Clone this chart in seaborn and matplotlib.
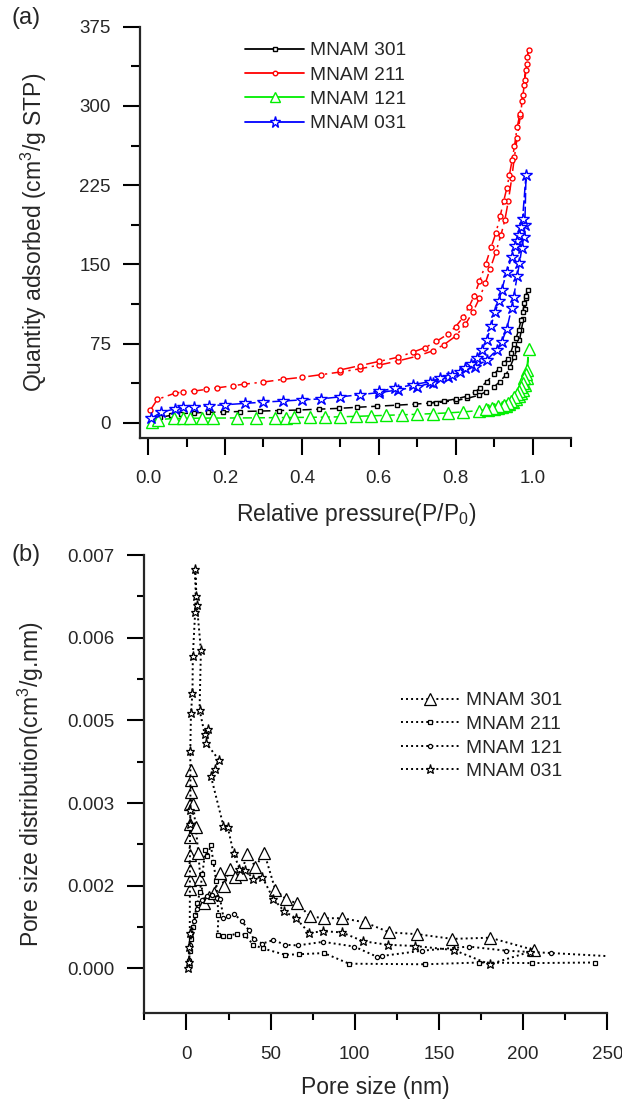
import numpy as np
import pandas as pd
import matplotlib
matplotlib.use("Agg")
import matplotlib.pyplot as plt
import seaborn as sns
from matplotlib.lines import Line2D
from matplotlib.ticker import FixedLocator, FixedFormatter

# ---------------- Panel (a): N2 isotherms ----------------
p301_ads = [0.01, 0.03, 0.06, 0.085, 0.12, 0.155, 0.195, 0.24, 0.29, 0.34, 0.39, 0.444, 0.497, 0.544,
            0.595, 0.647, 0.694, 0.75, 0.80, 0.83, 0.86, 0.88, 0.90, 0.915, 0.93, 0.942, 0.952, 0.96,
            0.966, 0.971, 0.976, 0.98, 0.984, 0.987]
q301_ads = [3, 5, 7, 8.5, 9.3, 9.8, 10.2, 10.6, 11, 11.5, 12, 12.8, 13.6, 14.6,
            15.6, 16.6, 17.6, 19, 21, 23, 26, 29.5, 34, 39, 45, 53, 62, 70,
            78, 88, 98, 108, 118, 126]
p301_des = [0.982, 0.978, 0.975, 0.97, 0.964, 0.957, 0.951, 0.943, 0.935, 0.925, 0.912, 0.90,
            0.881, 0.864, 0.85, 0.829, 0.80, 0.77, 0.73]
q301_des = [120, 113, 105, 97, 88, 80, 75, 66, 60, 57, 51, 46,
            39, 33, 29, 25, 22.5, 20.5, 19]

p211_ads = [0.006, 0.024, 0.07, 0.09, 0.12, 0.15, 0.18, 0.22, 0.25, 0.30, 0.35, 0.40, 0.45, 0.50,
            0.55, 0.60, 0.65, 0.70, 0.74, 0.77, 0.80, 0.825, 0.845, 0.862, 0.877, 0.89, 0.905,
            0.918, 0.928, 0.937, 0.946, 0.953, 0.96, 0.968, 0.975, 0.98, 0.985, 0.99]
q211_ads = [12, 22, 28, 29, 30, 31.5, 33, 35, 36.5, 38.5, 41, 43, 45.5, 48,
            51, 54.5, 58.5, 63, 68, 74, 82, 93, 105, 118, 132, 146, 162,
            178, 192, 210, 232, 252, 270, 290, 310, 325, 340, 353]
p211_des = [0.986, 0.982, 0.978, 0.973, 0.967, 0.96, 0.953, 0.947, 0.94, 0.933, 0.925, 0.916,
            0.905, 0.892, 0.878, 0.862, 0.848, 0.835, 0.82, 0.80, 0.78, 0.75, 0.72, 0.69,
            0.65, 0.60, 0.55, 0.50]
q211_des = [346, 334, 320, 305, 292, 280, 262, 249, 235, 222, 210, 196,
            180, 166, 150, 134, 120, 110, 100, 91, 84, 77, 71, 67,
            62, 58, 54, 50]

p121_ads = [0.011, 0.026, 0.068, 0.09, 0.11, 0.14, 0.17, 0.23, 0.28, 0.33, 0.36, 0.38, 0.42, 0.46,
            0.50, 0.54, 0.58, 0.62, 0.66, 0.70, 0.74, 0.78, 0.82, 0.86, 0.885, 0.90, 0.91, 0.92,
            0.93, 0.94, 0.95, 0.958, 0.965, 0.97, 0.975, 0.98, 0.985, 0.99]
q121_ads = [1, 3, 4, 4, 4.2, 4.3, 4.4, 4.5, 4.6, 4.8, 4.9, 5, 5.1, 5.3,
            5.6, 6, 6.5, 7, 7.5, 8, 8.6, 9.3, 10.2, 11.5, 12.5, 13.3, 14, 15,
            16, 17.5, 19.5, 22, 25, 28, 31, 36, 42, 70]
p121_des = [0.985, 0.982, 0.978, 0.974, 0.97, 0.965, 0.96, 0.952, 0.945, 0.935, 0.925, 0.91,
            0.895, 0.88]
q121_des = [50, 46, 42, 38, 34, 30, 27, 24, 21, 19, 17, 15.5, 14, 13]

p031_ads = [0.008, 0.034, 0.07, 0.09, 0.12, 0.159, 0.20, 0.252, 0.30, 0.35, 0.40, 0.45, 0.50, 0.55,
            0.60, 0.65, 0.70, 0.74, 0.78, 0.812, 0.851, 0.881, 0.907, 0.92, 0.933, 0.946, 0.951,
            0.96, 0.966, 0.972, 0.977, 0.98, 0.983]
q031_ads = [4, 10, 13, 14.5, 15, 16, 17, 18.3, 19.5, 20.5, 21.6, 22.6, 24.5, 26.5,
            28.5, 31, 34, 38, 43, 48, 53, 59.4, 69, 76.7, 89, 109, 119,
            139, 151, 165, 176, 187, 235]
p031_des = [0.974, 0.97, 0.965, 0.96, 0.955, 0.946, 0.933, 0.92, 0.912, 0.903, 0.892, 0.881,
            0.868, 0.855, 0.84, 0.825, 0.79, 0.76, 0.734, 0.69, 0.642, 0.60]
q031_des = [193, 185, 178, 172, 167, 157, 143, 126, 115, 105, 92, 78,
            69, 61, 56, 51.5, 45, 42, 39, 36, 32.5, 30]

labels = ["MNAM 301", "MNAM 211", "MNAM 121", "MNAM 031"]
colors_a = ["#000000", "#ff0000", "#00ee00", "#0000ff"]
markers = ["s", "o", "^", "*"]

# ---------------- Panel (b): pore size distribution ----------------
d301 = [1.9, 1.9, 1.9, 1.9, 2.0, 2.2, 2.4, 2.5, 2.6, 2.7, 4.0, 5.5, 7.1, 8.3, 10.6, 13.7, 16.5,
        19.7, 22.5, 25.6, 28.6, 32.2, 36.2, 41.0, 46.2, 52.8, 59.4, 65.8, 73.5, 82.0, 92.6,
        106.0, 120.6, 137.0, 158.0, 180.3, 206.7]
v301 = [0.00134, 0.0015, 0.00166, 0.00192, 0.00223, 0.00245, 0.00279, 0.00299, 0.00319, 0.00336,
        0.00278, 0.0024, 0.00195, 0.00151, 0.0011, 0.00121, 0.00128, 0.00162, 0.00139, 0.00169,
        0.00155, 0.0016, 0.00193, 0.00172, 0.00196, 0.00133, 0.00117, 0.0011, 0.00088, 0.00085,
        0.00085, 0.00078, 0.00061, 0.00058, 0.0005, 0.00052, 0.00031]
d211 = [1.5, 2.0, 2.8, 3.8, 5.0, 6.5, 8.0, 9.5, 11.2, 12.5, 14.5, 16.0, 17.7, 19.0, 18.5, 21.8,
        25.2, 29.8, 34.5, 39.8, 45.2, 58.7, 66.9, 81.7, 96.6, 142.0, 174.0, 205.0, 242.7]
v211 = [0.0001, 0.0003, 0.0005, 0.0007, 0.0009, 0.0011, 0.0013, 0.0016, 0.002, 0.0019, 0.00209,
        0.0018, 0.00148, 0.0009, 0.00056, 0.00055, 0.00055, 0.00059, 0.00057, 0.0004, 0.00034,
        0.00023, 0.00024, 0.00026, 0.00008, 0.00007, 0.0001, 0.00009, 0.0001]
d121 = [1.6, 2.2, 3.0, 4.5, 6.5, 9.0, 12.0, 15.0, 18.0, 20.0, 22.0, 24.5, 28.4, 33.0, 37.0, 40.0,
        45.0, 51.6, 58.7, 66.2, 81.2, 99.7, 113.0, 116.0, 140.0, 167.6, 190.0, 216.7, 262.0]
v121 = [0.00015, 0.0004, 0.0006, 0.0008, 0.001, 0.00115, 0.00122, 0.00125, 0.0012, 0.00118,
        0.00086, 0.00088, 0.00092, 0.0008, 0.00065, 0.0005, 0.00042, 0.00048, 0.0004, 0.00039,
        0.00045, 0.00037, 0.0002, 0.00021, 0.0003, 0.00037, 0.0003, 0.00026, 0.00019]
d031 = [1.2, 1.5, 1.8, 2.0, 2.1, 2.4, 2.3, 2.7, 3.6, 3.8, 5.2, 5.5, 5.2, 6.2, 8.6, 7.8, 10.8,
        13.1, 11.6, 19.3, 17.1, 14.5, 22.0, 24.5, 28.0, 31.5, 35.0, 39.8, 45.0, 51.6, 58.0, 65.0,
        73.0, 81.0, 92.3, 105.0, 119.6, 135.7, 158.9, 180.2, 203.9]
v031 = [0.0, 0.00011, 0.00037, 0.0006, 0.00245, 0.00268, 0.00368, 0.00433, 0.00467, 0.00529,
        0.00604, 0.0063, 0.00677, 0.00615, 0.00539, 0.00438, 0.00397, 0.00406, 0.00382, 0.00353,
        0.00337, 0.00326, 0.00241, 0.0024, 0.00195, 0.00169, 0.00166, 0.00152, 0.00155, 0.00118,
        0.00097, 0.00085, 0.0006, 0.00063, 0.00061, 0.00046, 0.0004, 0.00038, 0.00031, 0.00007,
        0.00028]
markers_b = ["^", "s", "o", "*"]

b_yticks = [0.0, 0.0014, 0.0028, 0.0042, 0.0056, 0.0070]
b_yticklabels = ["0.000", "0.002", "0.003", "0.005", "0.006", "0.007"]

# ---------------- style ----------------
sns.set_style("ticks")
plt.rcParams["font.family"] = ["Liberation Sans", "DejaVu Sans"]
plt.rcParams["mathtext.fontset"] = "custom"
plt.rcParams["mathtext.rm"] = "Liberation Sans"
plt.rcParams["mathtext.it"] = "Liberation Sans:italic"

TICK_FS = 13.5
LABEL_FS = 16.5
LEG_FS = 13.8

fig = plt.figure(figsize=(6.22, 10.99), dpi=100)
W, H = 622, 1099

def add_axes_px(l, t, r, b):
    return fig.add_axes([l / W, 1 - b / H, (r - l) / W, (b - t) / H])

ax1 = add_axes_px(140.4, 26.7, 571, 437.7)
ax2 = add_axes_px(143.5, 555, 607.3, 1013.3)

def style_axes(ax, minor_len):
    for s in ["top", "right"]:
        ax.spines[s].set_visible(False)
    for s in ["left", "bottom"]:
        ax.spines[s].set_linewidth(1.6)
    ax.tick_params(which="major", direction="out", length=12.2, width=1.5,
                   labelsize=TICK_FS, color="black")
    ax.tick_params(axis="y", which="major", pad=9)
    ax.tick_params(axis="x", which="major", pad=11)
    ax.tick_params(which="minor", direction="out", length=minor_len, width=1.5, color="black")

# ---- panel (a)
sizes_a = [3.2, 3.6, 8.5, 9.0]
series_a = [
    (p301_ads + p301_des, q301_ads + q301_des),
    (p211_ads + p211_des, q211_ads + q211_des),
    (p121_ads + p121_des, q121_ads + q121_des),
    (p031_ads + p031_des, q031_ads + q031_des),
]
dash_styles = [(0, (6, 3)), (0, (8, 3, 1.5, 3)), (0, (6, 2.5)), (0, (7, 2))]
for (px, qy), lab, c, m, ms, ls in zip(series_a, labels, colors_a, markers, sizes_a, dash_styles):
    df = pd.DataFrame({"P": px, "Q": qy})
    sns.lineplot(data=df, x="P", y="Q", ax=ax1, sort=False, estimator=None, color=c,
                 marker=m, markersize=ms, markerfacecolor="white", markeredgecolor=c,
                 markeredgewidth=1.0, linewidth=1.1, linestyle=ls, legend=False)

ax1.set_xlim(-0.02, 1.10)
ax1.set_ylim(-14.2, 375)
ax1.xaxis.set_major_locator(FixedLocator([0.0, 0.2, 0.4, 0.6, 0.8, 1.0]))
ax1.xaxis.set_major_formatter(FixedFormatter(["0.0", "0.2", "0.4", "0.6", "0.8", "1.0"]))
ax1.xaxis.set_minor_locator(FixedLocator([0.1, 0.3, 0.5, 0.7, 0.9, 1.1]))
ax1.yaxis.set_major_locator(FixedLocator([0, 75, 150, 225, 300, 375]))
ax1.yaxis.set_minor_locator(FixedLocator([37.5, 112.5, 187.5, 262.5, 337.5]))
style_axes(ax1, 6.5)
ax1.set_xlabel("Relative pressure(P/P$_0$)", fontsize=LABEL_FS, labelpad=10)
ax1.set_ylabel("Quantity adsorbed (cm$^3$/g STP)", fontsize=LABEL_FS, labelpad=22)

handles_a = [Line2D([0], [0], color=c, marker=m, markersize=ms * 0.9, markerfacecolor="white",
                    markeredgecolor=c, markeredgewidth=1.0, linewidth=1.3)
             for c, m, ms in zip(colors_a, markers, [3.2, 3.6, 8.5, 9.0])]
ax1.legend(handles_a, labels, loc="upper left", bbox_to_anchor=(245 / W, 1 - 42 / H),
           bbox_transform=fig.transFigure, frameon=False, fontsize=LEG_FS, handlelength=3.1,
           handletextpad=0.3, labelspacing=0.36, borderpad=0, borderaxespad=0, numpoints=1)

# ---- panel (b)
sizes_b = [8.5, 3.0, 3.0, 6.8]
series_b = [(d301, v301), (d211, v211), (d121, v121), (d031, v031)]
for (dx, vy), lab, m, ms in zip(series_b, labels, markers_b, sizes_b):
    df = pd.DataFrame({"D": dx, "V": vy})
    sns.lineplot(data=df, x="D", y="V", ax=ax2, sort=False, estimator=None, color="black",
                 marker=m, markersize=ms, markerfacecolor="white", markeredgecolor="black",
                 markeredgewidth=0.9, linewidth=1.4, linestyle=(0, (1, 1.6)), legend=False)

ax2.set_xlim(-25.5, 250)
ax2.set_ylim(-0.00076, 0.0070)
ax2.xaxis.set_major_locator(FixedLocator([0, 50, 100, 150, 200, 250]))
ax2.xaxis.set_major_formatter(FixedFormatter(["0", "50", "100", "150", "200", "250"]))
ax2.xaxis.set_minor_locator(FixedLocator([-25, 25, 75, 125, 175, 225]))
ax2.yaxis.set_major_locator(FixedLocator(b_yticks))
ax2.yaxis.set_major_formatter(FixedFormatter(b_yticklabels))
ax2.yaxis.set_minor_locator(FixedLocator([0.0007, 0.0021, 0.0035, 0.0049, 0.0063]))
style_axes(ax2, 5.0)
ax2.set_xlabel("Pore size (nm)", fontsize=LABEL_FS, labelpad=10)
ax2.set_ylabel("Pore size distribution(cm$^3$/g.nm)", fontsize=LABEL_FS, labelpad=15)

handles_b = [Line2D([0], [0], color="black", marker=m, markersize=ms, markerfacecolor="white",
                    markeredgecolor="black", markeredgewidth=0.9, linewidth=1.4,
                    linestyle=(0, (1, 1.6)))
             for m, ms in zip(markers_b, sizes_b)]
ax2.legend(handles_b, labels, loc="upper left", bbox_to_anchor=(400.7 / W, 1 - 692 / H),
           bbox_transform=fig.transFigure, frameon=False, fontsize=LEG_FS, handlelength=3.1,
           handletextpad=0.3, labelspacing=0.32, borderpad=0, borderaxespad=0, numpoints=1)

fig.text(26 / W, 1 - 18 / H, "(a)", fontsize=17, ha="center", va="center")
fig.text(26 / W, 1 - 555 / H, "(b)", fontsize=17, ha="center", va="center")

fig.savefig("out.png", dpi=100, facecolor="white")
